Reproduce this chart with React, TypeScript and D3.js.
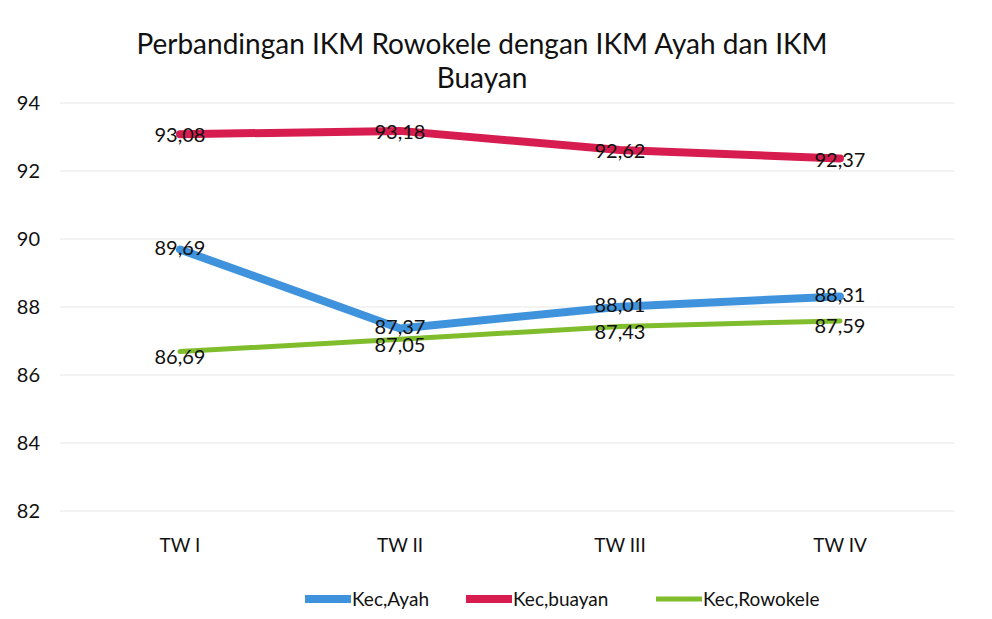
import React, { useEffect, useRef } from 'react';
import * as d3 from 'd3';

const categories = ['TW I', 'TW II', 'TW III', 'TW IV'];
const ayahValues = [89.69, 87.37, 88.01, 88.31];
const buayanValues = [93.08, 93.18, 92.62, 92.37];
const rowokeleValues = [86.69, 87.05, 87.43, 87.59];
const yTicks = [82, 84, 86, 88, 90, 92, 94];
const titleLines = ['Perbandingan IKM Rowokele dengan  IKM Ayah dan IKM', 'Buayan'];

interface Series {
  name: string;
  values: number[];
  color: string;
  width: number;
  labelShift: number;
}

const series: Series[] = [
  { name: 'Kec,Ayah', values: ayahValues, color: '#3f93dc', width: 8, labelShift: -2 },
  { name: 'Kec,buayan', values: buayanValues, color: '#d71d4f', width: 8, labelShift: 1 },
  { name: 'Kec,Rowokele', values: rowokeleValues, color: '#80bd2c', width: 5, labelShift: 5 },
];

const fmt = (v: number) => v.toFixed(2).replace('.', ',');

const App: React.FC = () => {
  const svgRef = useRef<SVGSVGElement>(null);
  const width = 992;
  const height = 619;

  useEffect(() => {
    if (!svgRef.current) return;
    const svg = d3.select(svgRef.current);
    svg.selectAll('*').remove();

    const font = "Lato, 'Open Sans', sans-serif";
    const margin = { top: 103, right: 42, bottom: 108, left: 70 };

    svg.append('rect').attr('width', width).attr('height', height).attr('fill', '#fff');

    // scales
    const x = d3.scalePoint<string>()
      .domain(categories)
      .range([margin.left, width - margin.right])
      .padding(0.5);
    const y = d3.scaleLinear()
      .domain([82, 94])
      .range([height - margin.bottom, margin.top]);

    // title
    svg.append('text')
      .attr('x', 482)
      .attr('y', 54)
      .attr('text-anchor', 'middle')
      .attr('font-family', font)
      .attr('font-size', 28)
      .attr('fill', '#111')
      .selectAll('tspan')
      .data(titleLines)
      .join('tspan')
      .attr('x', 482)
      .attr('dy', (_, i) => (i === 0 ? 0 : 34))
      .text(d => d);

    // gridlines
    svg.append('g')
      .selectAll('line')
      .data(yTicks)
      .join('line')
      .attr('x1', 60)
      .attr('x2', 955)
      .attr('y1', d => y(d))
      .attr('y2', d => y(d))
      .attr('stroke', '#efefef')
      .attr('stroke-width', 1.5);

    // y tick labels
    svg.append('g')
      .selectAll('text')
      .data(yTicks)
      .join('text')
      .attr('x', 40)
      .attr('y', d => y(d))
      .attr('dy', '0.35em')
      .attr('text-anchor', 'end')
      .attr('font-family', font)
      .attr('font-size', 20)
      .attr('fill', '#111')
      .text(d => d);

    // category labels
    svg.append('g')
      .selectAll('text')
      .data(categories)
      .join('text')
      .attr('x', d => x(d) ?? 0)
      .attr('y', 552)
      .attr('text-anchor', 'middle')
      .attr('font-family', font)
      .attr('font-size', 19)
      .attr('fill', '#111')
      .text(d => d);

    const line = d3.line<number>()
      .x((_, i) => x(categories[i]) ?? 0)
      .y(d => y(d));

    // lines
    series.forEach(s => {
      svg.append('path')
        .datum(s.values)
        .attr('fill', 'none')
        .attr('stroke', s.color)
        .attr('stroke-width', s.width)
        .attr('stroke-linecap', 'round')
        .attr('stroke-linejoin', 'round')
        .attr('d', line);
    });

    // data labels
    series.forEach(s => {
      svg.append('g')
        .selectAll('text')
        .data(s.values)
        .join('text')
        .attr('x', (_, i) => x(categories[i]) ?? 0)
        .attr('y', d => y(d) + s.labelShift)
        .attr('dy', '0.36em')
        .attr('text-anchor', 'middle')
        .attr('font-family', font)
        .attr('font-size', 20)
        .attr('fill', '#111')
        .text(d => fmt(d));
    });

    // legend
    const legendItems = [
      { s: series[0], x: 305 },
      { s: series[1], x: 466 },
      { s: series[2], x: 656 },
    ];
    const lg = svg.append('g');
    legendItems.forEach(item => {
      lg.append('line')
        .attr('x1', item.x)
        .attr('x2', item.x + 46)
        .attr('y1', 599)
        .attr('y2', 599)
        .attr('stroke', item.s.color)
        .attr('stroke-width', item.s.width);
      lg.append('text')
        .attr('x', item.x + 47)
        .attr('y', 599)
        .attr('dy', '0.35em')
        .attr('font-family', font)
        .attr('font-size', 19)
        .attr('fill', '#111')
        .text(item.s.name);
    });
  }, []);

  return (
    <div style={{ position: 'absolute', left: 0, top: 0 }}>
      <svg ref={svgRef} width={width} height={height} viewBox={`0 0 ${width} ${height}`} />
    </div>
  );
};

export default App;
